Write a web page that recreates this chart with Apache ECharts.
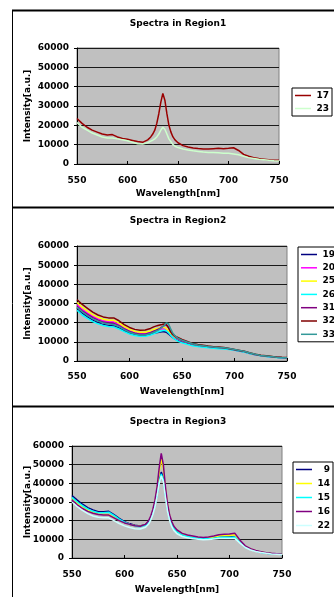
<!DOCTYPE html>
<html>
<head>
<meta charset="utf-8">
<script src="https://cdn.jsdelivr.net/npm/echarts@6/dist/echarts.min.js"></script>
<style>
html,body{margin:0;padding:0;background:#fff;}
#c{width:334px;height:597px;}
</style>
</head>
<body>
<div id="c"></div>
<script>
// Wavelength grid (nm)
const wl = [550,555,560,565,570,575,580,585,590,595,600,605,610,615,620,
  623,625,627,629,631,633,635,637,639,641,643,645,647,
  650,655,660,665,670,675,680,685,690,695,700,705,710,715,720,725,730,735,740,745,750];

const titles = ['Spectra in Region1','Spectra in Region2','Spectra in Region3'];
const xTicks = [550,600,650,700,750];
const yTicks = [0,10000,20000,30000,40000,50000,60000];

// Region 1
const r1_names = ['17','23'];
const r1_17 = [23500,21000,19000,17500,16500,15500,15000,15200,14000,13200,12800,12200,11600,11200,12500,
  14000,15500,17500,21000,26000,32000,36500,33000,26000,20000,16500,14000,12500,
  11000,9500,8800,8300,8000,7800,7700,7900,8100,7900,8100,8400,7000,5000,4000,3200,2800,2500,2200,2000,2000];
const r1_23 = [21500,19000,17500,16000,15000,14000,13500,13500,13000,12500,12000,11200,10500,10300,11000,
  11800,12300,13000,14000,15500,17500,19000,18000,15500,13000,11500,10000,9200,
  8500,7800,7200,6800,6500,6200,6000,6000,5800,5600,5500,5200,4800,4000,3300,2800,2400,2200,1900,1700,1600];

// Region 2
const r2_names = ['19','20','25','26','31','32','33'];
const r2_19 = [27500,25000,23000,21300,20000,19000,18500,18300,17200,15800,14500,13700,13300,13300,13900,
  14400,14700,14900,15100,15300,15300,15000,14200,13200,12300,11600,11000,10500,
  10000,9200,8500,8000,7600,7200,7000,6800,6600,6200,5700,5200,4700,3900,3300,2800,2500,2200,1900,1700,1600];
const r2_20 = [29500,27000,25000,23300,22000,21000,20500,20300,19000,17300,15800,14800,14300,14300,15000,
  15600,16000,16300,16500,16800,16800,16500,15500,14200,13000,12300,11700,11200,
  10600,9600,8800,8200,7800,7400,7100,6900,6600,6200,5700,5200,4700,3900,3300,2800,2500,2200,1900,1700,1600];
const r2_25 = [30500,28000,26000,24200,22800,21800,21300,21200,19800,18000,16500,15500,15000,15000,15800,
  16400,16800,17000,17300,17500,17500,17000,15800,14500,13300,12500,11900,11400,
  10800,9800,8900,8300,7900,7500,7200,7000,6700,6300,5800,5300,4800,4000,3400,2900,2600,2300,2000,1800,1700];
const r2_26 = [26500,24000,22200,20600,19400,18500,18000,17800,16700,15300,14100,13300,12900,12900,13600,
  14200,14700,15100,15500,15800,16000,15800,14800,13500,12300,11400,10700,10100,
  9500,8700,8000,7500,7200,6900,6600,6400,6300,6000,5600,5100,4600,3800,3200,2700,2400,2100,1800,1600,1500];
const r2_31 = [28500,26200,24300,22600,21300,20300,19800,19600,18400,16800,15400,14500,14000,14000,14800,
  15500,16000,16500,17000,17800,18500,19000,17800,15500,13800,12800,12000,11400,
  10700,9700,8900,8300,7900,7500,7200,7000,6800,6400,5900,5400,4900,4100,3400,2900,2600,2300,2000,1800,1700];
const r2_32 = [32000,29500,27500,25500,24000,23000,22500,22500,21000,19000,17500,16500,16000,16200,17000,
  17800,18200,18500,18800,19000,19300,19000,17500,15500,14000,13200,12500,12000,
  11200,10200,9200,8600,8200,7800,7500,7300,7000,6500,6000,5500,5000,4200,3500,3000,2700,2400,2100,1900,1800];
const r2_33 = [28000,25600,23700,22000,20800,19800,19300,19100,18000,16400,15000,14100,13600,13600,14300,
  15000,15500,16000,16700,17500,18500,19800,19500,17000,14800,13300,12300,11600,
  10900,9900,9000,8400,8000,7600,7300,7100,6900,6500,6000,5500,5000,4200,3500,2900,2600,2300,2000,1800,1700];

// Region 3
const r3_names = ['9','14','15','16','22'];
const r3_9 = [33500,31000,28800,27000,25800,24800,24800,25000,23200,21200,19500,18300,17500,17200,18000,
  19500,21500,24500,28500,34000,41000,46000,43000,34000,26500,21500,18300,16200,
  14300,12700,11800,11200,10800,10500,10500,10800,11200,11300,11300,11500,8600,6000,4600,3800,3100,2600,2300,2100,1900];
const r3_14 = [32000,29500,27500,25800,24500,23500,23500,23200,21800,20200,19000,18000,17300,17000,17800,
  19500,21800,25000,30000,36500,46000,53000,48000,37000,28500,22500,19000,16700,
  14700,13000,12100,11500,11000,10700,10800,11300,11800,12000,12000,12400,9000,6300,4800,3900,3200,2700,2400,2200,2000];
const r3_15 = [32500,30000,28000,26300,25000,24200,24300,24500,22800,20800,19200,18000,17200,16800,17500,
  19000,21000,24000,28000,33500,40500,45000,42000,33500,26000,21000,17800,15800,
  14000,12400,11500,11000,10600,10300,10300,10600,11000,11100,11000,11200,8400,5800,4500,3700,3000,2600,2300,2100,1900];
const r3_16 = [31000,28500,26500,25000,24000,23300,23000,23000,21500,20000,18800,18000,17300,17000,18000,
  20000,22500,26000,31000,38000,48000,56000,50000,38000,29000,23000,19500,17000,
  15000,13200,12300,11800,11300,11000,11200,11800,12500,12700,12800,13300,9500,6500,5000,4000,3300,2800,2500,2300,2000];
const r3_22 = [30000,27500,25500,23800,22500,21800,21500,21500,20000,18500,17200,16300,15700,15500,16500,
  18200,20300,23300,27300,33000,40000,44000,41000,32500,25000,20000,16800,14800,
  13000,11500,10800,10300,10000,9800,9900,10200,10400,10500,10500,10500,8000,5600,4300,3500,2900,2500,2200,2000,1800];

const colors1 = ['#990000','#ccffcc'];
const colors2 = ['#000080','#ff00ff','#ffff00','#00ffff','#800080','#800000','#339999'];
const colors3 = ['#000080','#ffff00','#00ffff','#800080','#ccffff'];

const panels = [
  {names: r1_names, data: [r1_17, r1_23], colors: colors1,
   grid: {left: 77, top: 48, width: 202, height: 116}, titleTop: 19, nameGapY: 45, xMargin: 12, xNameGap: 25,
   legend: {left: 292, top: 88, itemGap: 4}},
  {names: r2_names, data: [r2_19, r2_20, r2_25, r2_26, r2_31, r2_32, r2_33], colors: colors2,
   grid: {left: 77, top: 246, width: 210, height: 115}, titleTop: 216, nameGapY: 45, xMargin: 11, xNameGap: 26,
   legend: {left: 298, top: 247, itemGap: 4.3}},
  {names: r3_names, data: [r3_9, r3_14, r3_15, r3_16, r3_22], colors: colors3,
   grid: {left: 72, top: 446, width: 210, height: 112}, titleTop: 417, nameGapY: 40, xMargin: 12, xNameGap: 27,
   legend: {left: 293, top: 462, itemGap: 5}}
];

const FONT = '"DejaVu Sans", sans-serif';
const txt = {fontFamily: FONT, fontWeight: 'bold', fontSize: 9, color: '#000'};

const option = {
  animation: false,
  backgroundColor: '#fff',
  title: [], grid: [], xAxis: [], yAxis: [], legend: [], series: [],
  graphic: [
    {type: 'line', shape: {x1: 12, y1: 10.5, x2: 334, y2: 10.5}, style: {stroke: '#000', lineWidth: 2}},
    {type: 'line', shape: {x1: 12, y1: 207.5, x2: 334, y2: 207.5}, style: {stroke: '#000', lineWidth: 2}},
    {type: 'line', shape: {x1: 12, y1: 406.5, x2: 334, y2: 406.5}, style: {stroke: '#000', lineWidth: 2}},
    {type: 'line', shape: {x1: 12.5, y1: 10, x2: 12.5, y2: 597}, style: {stroke: '#000', lineWidth: 1}}
  ]
};

panels.forEach((p, gi) => {
  option.title.push({
    text: titles[gi], left: 178, top: p.titleTop, textAlign: 'center', padding: 0,
    textStyle: Object.assign({}, txt, {fontSize: 9})
  });
  option.grid.push(Object.assign({show: true, backgroundColor: '#c0c0c0', borderColor: '#808080', borderWidth: 1}, p.grid));
  option.xAxis.push({
    type: 'value', gridIndex: gi, min: xTicks[0], max: xTicks[xTicks.length - 1], interval: 50,
    name: 'Wavelength[nm]', nameLocation: 'middle', nameGap: p.xNameGap, nameTextStyle: txt,
    nameMoveOverlap: false,
    axisLine: {show: true, onZero: false, lineStyle: {color: '#000', width: 1}},
    axisTick: {show: true, inside: true, length: 3, lineStyle: {color: '#000'}},
    axisLabel: Object.assign({margin: p.xMargin, formatter: v => String(v)}, txt),
    splitLine: {show: false}
  });
  option.yAxis.push({
    type: 'value', gridIndex: gi, min: yTicks[0], max: yTicks[yTicks.length - 1], interval: 10000,
    name: 'Intensity[a.u.]', nameLocation: 'middle', nameGap: p.nameGapY, nameTextStyle: txt,
    nameMoveOverlap: false,
    axisLine: {show: true, lineStyle: {color: '#000', width: 1}},
    axisTick: {show: true, length: 3, lineStyle: {color: '#000'}},
    axisLabel: Object.assign({margin: 8, formatter: v => String(v)}, txt),
    splitLine: {show: true, lineStyle: {color: '#1a1a1a', width: 1}}
  });
  option.legend.push({
    left: p.legend.left, top: p.legend.top, orient: 'vertical',
    data: p.names.map(n => ({name: n, icon: 'path://M0,0h32v3h-32z'})),
    symbolKeepAspect: true,
    backgroundColor: '#fff', borderColor: '#000', borderWidth: 1, borderRadius: 0,
    padding: [3, 3, 3, 3], itemGap: p.legend.itemGap, itemWidth: 16, itemHeight: 10,
    formatter: name => '{a|' + name + '}',
    textStyle: {rich: {a: Object.assign({}, txt, {width: 13, align: 'right'})}, padding: [0, 0, 0, 0]},
    selectedMode: false
  });
  p.names.forEach((nm, si) => {
    option.series.push({
      type: 'line', name: nm, xAxisIndex: gi, yAxisIndex: gi,
      symbol: 'none', showSymbol: false, smooth: false,
      color: p.colors[si],
      itemStyle: {color: p.colors[si]},
      lineStyle: {color: p.colors[si], width: 1.5},
      data: wl.map((w, i) => [w, p.data[si][i]])
    });
  });
});

const chart = echarts.init(document.getElementById('c'), null, {renderer: 'canvas'});
chart.setOption(option);
</script>
</body>
</html>
